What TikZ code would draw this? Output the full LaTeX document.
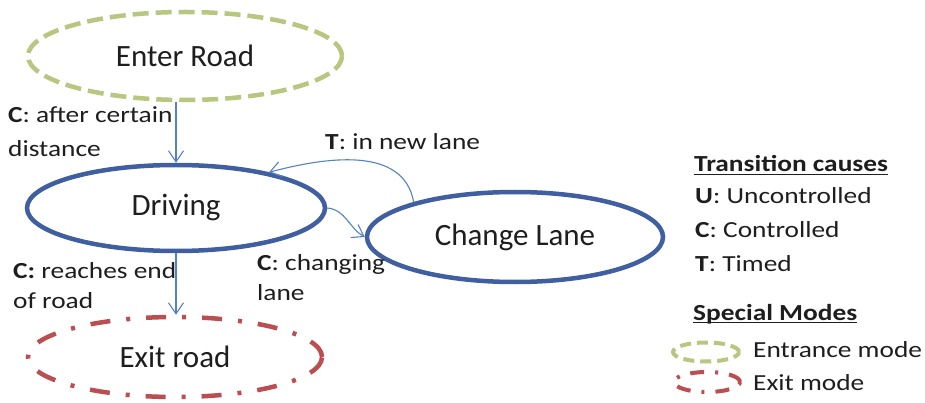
\documentclass[tikz,border=0pt]{standalone}
\usepackage{fontspec}
\setmainfont{Carlito}
\newfontfamily\widefont{Carlito}[FakeStretch=1.19]
\usetikzlibrary{shapes.geometric,arrows.meta}

\definecolor{modeblue}{RGB}{64,95,160}
\definecolor{arrowblue}{RGB}{84,130,195}
\definecolor{entrygreen}{RGB}{184,198,128}
\definecolor{exitred}{RGB}{186,78,80}
\definecolor{ink}{RGB}{30,30,30}

\tikzset{
  mode/.style={ellipse, inner sep=0pt, line width=4.5pt, text=ink,
    font=\fontsize{31}{36}\selectfont},
  normalmode/.style={mode, draw=modeblue},
  entrymode/.style={mode, draw=entrygreen, dash pattern=on 16pt off 7pt},
  exitmode/.style={mode, draw=exitred, dash pattern=on 20pt off 16pt on 4pt off 16pt},
  trans/.style={draw=arrowblue, line width=1.1pt,
    -{Straight Barb[length=11pt,width=15pt,line width=1.1pt]}},
  lbl/.style={anchor=base west, inner sep=0pt, align=left, text=ink},
  lblA/.style={lbl, font=\widefont\fontsize{23}{34}\selectfont},
  lblB/.style={lbl, font=\widefont\fontsize{23}{30}\selectfont},
  legend/.style={anchor=base west, inner sep=0pt, text=ink,
    font=\widefont\fontsize{23}{26}\selectfont},
  heading/.style={legend, font=\widefont\fontsize{23}{26}\selectfont\bfseries},
  uline/.style={draw=ink, line width=1.3pt},
}

\begin{document}
\begin{tikzpicture}[x=1pt, y=-1pt]
  \useasboundingbox[fill=white] (0,0) rectangle (925,403);

  % modes
  \node[entrymode, minimum width=314pt, minimum height=88pt] (enter) at (185,56) {Enter Road};
  \node[normalmode, minimum width=298pt, minimum height=86pt] (driving) at (176,208) {Driving};
  \node[normalmode, minimum width=296pt, minimum height=90pt] (change) at (515,237) {Change Lane};
  \node[exitmode, minimum width=294pt, minimum height=80pt] (exit) at (175,357) {Exit road};

  % transitions
  \draw[trans] (enter.south -| driving.north) -- (driving.north);
  \draw[trans] (driving.south) -- (driving.south |- exit.north);
  \draw[trans] (driving.east) to[out=-5, in=150] (change.west);
  \draw[trans] (change.161) to[out=100, in=15] (driving.21);

  % transition labels (anchored at the baseline of the last line)
  \node[lblA] (l1) at (8,157) {\textbf{C}: after certain\\distance};
  \node[lblA] (l2) at (325,150) {\textbf{T}: in new lane};
  \node[lblB] (l3) at (13,308) {\textbf{C:} reaches end\\of road};
  \node[lblB] (l4) at (257,300) {\textbf{C}: changing\\lane};

  % legend: transition causes
  \node[heading] (tc) at (694,172) {Transition causes};
  \draw[uline] ([yshift=-2.5pt]tc.base west) -- ([yshift=-2.5pt]tc.base east);
  \node[legend] (u) at (695,204) {\textbf{U}: Uncontrolled};
  \node[legend] (c) at (695,237) {\textbf{C}: Controlled};
  \node[legend] (t) at (695,271) {\textbf{T}: Timed};

  % legend: special modes
  \node[heading] (sm) at (693,320) {Special Modes};
  \draw[uline] ([yshift=-2.5pt]sm.base west) -- ([yshift=-2.5pt]sm.base east);
  \node[ellipse, inner sep=0pt, minimum width=66pt, minimum height=19pt,
        draw=entrygreen, line width=4pt, dash pattern=on 11pt off 6pt] (iconentry) at (706,352) {};
  \node[legend] (em) at (753,357) {Entrance mode};
  \node[ellipse, inner sep=0pt, minimum width=66pt, minimum height=20pt,
        draw=exitred, line width=4pt, dash pattern=on 14pt off 11pt on 3pt off 11pt] (iconexit) at (707,382) {};
  \node[legend] (xm) at (753,390) {Exit mode};
\end{tikzpicture}
\end{document}
